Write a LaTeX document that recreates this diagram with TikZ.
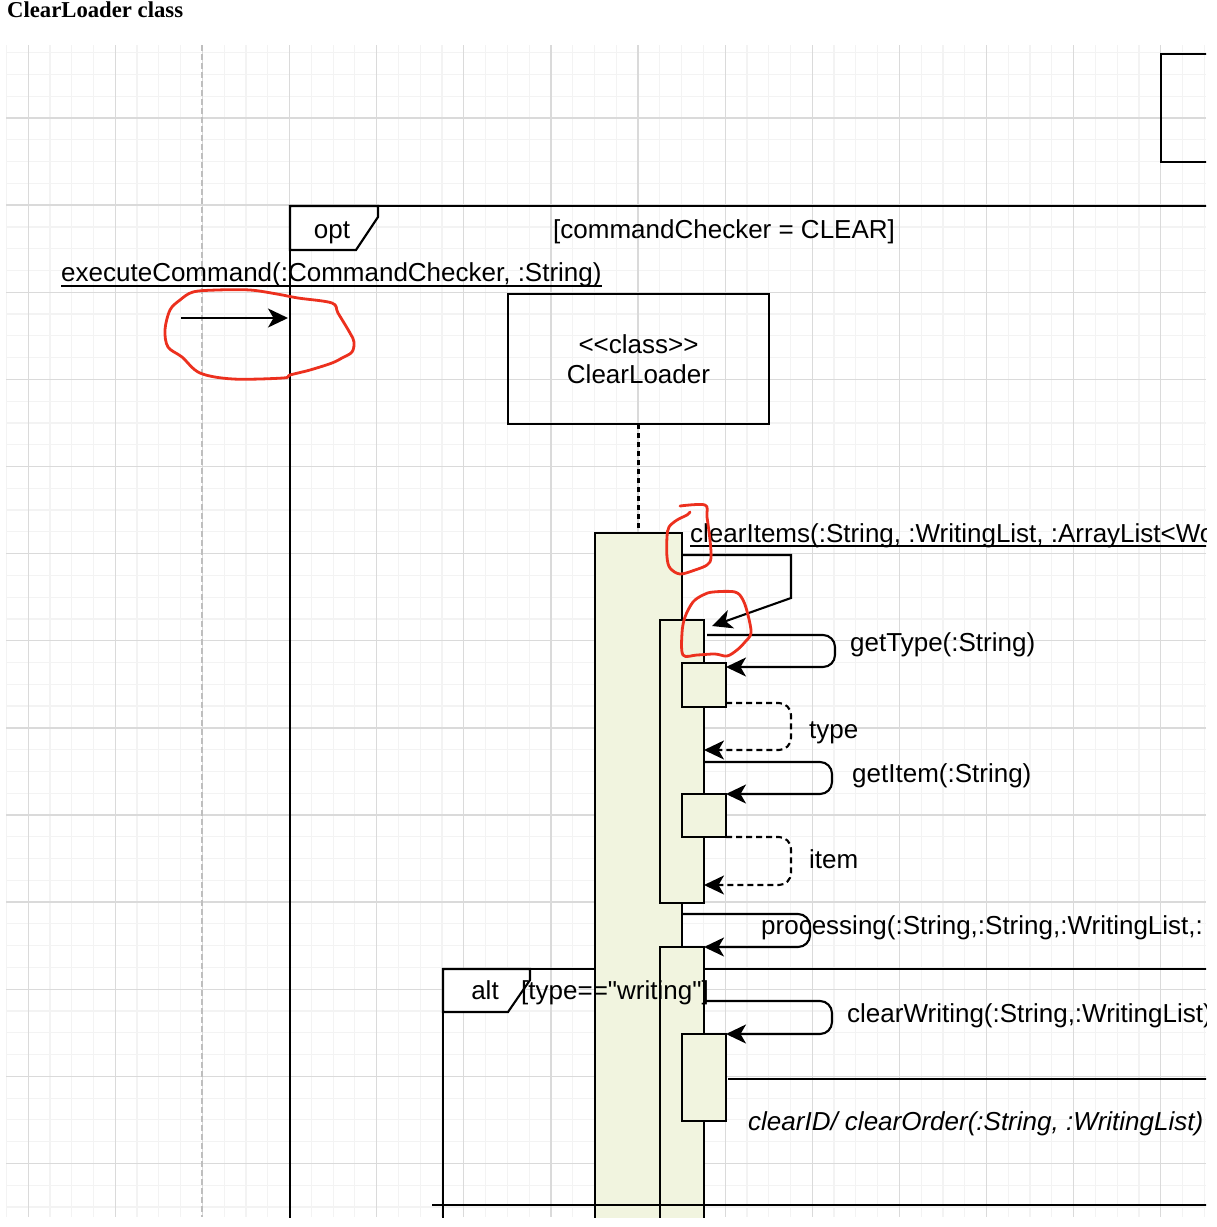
\documentclass[tikz,border=0pt]{standalone}
\usepackage{fontspec}
\newfontfamily\dio{Liberation Sans}
\newfontfamily\ttl{Liberation Serif}
\usetikzlibrary{arrows.meta}
\definecolor{actfill}{RGB}{241,244,223}
\definecolor{gridminor}{RGB}{243,243,243}
\definecolor{gridmajor}{RGB}{218,218,218}
\definecolor{lifegray}{RGB}{190,190,190}
\definecolor{annot}{RGB}{236,48,30}
\begin{document}
\begin{tikzpicture}[x=1pt,y=-1pt,
  ln/.style={line width=2.1pt, black},
  box/.style={draw, line width=2.1pt, inner sep=0pt, outer sep=0pt, anchor=north west},
  actbox/.style={box, fill=actfill},
  msg/.style={line width=2.1pt, -{Stealth[length=20pt,width=19pt,inset=5.5pt]}},
  loopmsg/.style={msg, rounded corners=12pt},
  ret/.style={loopmsg, dash pattern=on 6pt off 4pt},
  lbl/.style={font=\dio\fontsize{26pt}{30pt}\selectfont, inner sep=0pt, anchor=base west},
  uline/.style={line width=1.8pt},
  note/.style={annot, line width=2.8pt, line join=round, line cap=round},
  gmin/.style={gridminor, line width=1.2pt},
  gmaj/.style={gridmajor, line width=1.3pt},
]
\useasboundingbox (0,0) rectangle (1217,1227);
\node[font=\ttl\bfseries\fontsize{22.7pt}{26pt}\selectfont, inner sep=0pt, anchor=base west] (title) at (7,17) {ClearLoader class};
\begin{scope}
\clip (6,45) rectangle (1206,1217);
% grid
\foreach \i in {0,...,55} \draw[gmin] ({6.4+21.78*\i},45) -- ++(0,1172);
\foreach \i in {-3,...,50} \draw[gmin] (6,{118+21.78*\i}) -- ++(1200,0);
\foreach \i in {0,...,13} \draw[gmaj] ({28.2+87.12*\i},45) -- ++(0,1172);
\foreach \i in {-1,...,12} \draw[gmaj] (6,{118+87.12*\i}) -- ++(1200,0);
% left lifeline
\coordinate (llt) at (202,45);
\coordinate (llb) at (202,1217);
\draw[lifegray, line width=1.8pt, dash pattern=on 6pt off 3pt] (llt) -- (llb);
% opt frame
\draw[ln] (1220,206) -- (290,206) -- (290,1230);
\draw[ln, fill=white] (290,206) -- (378,206) -- (378,217) -- (356,250) -- (290,250) -- cycle;
\node[lbl, anchor=base] (optl) at (332,238) {opt};
\node[lbl] (optc) at (553,238) {[commandChecker = CLEAR]};
% executeCommand
\node[lbl] (ex) at (61,281) {executeCommand(:CommandChecker, :String)};
\draw[uline] ([yshift=-5pt]ex.base west) -- ([yshift=-5pt]ex.base east);
\coordinate (exs) at (181,318);
\coordinate (exe) at (288,318);
\draw[msg] (exs) -- (exe);
% right object box
\node[box, minimum width=100pt, minimum height=108pt] (objR) at (1161,54) {};
% class box
\node[box, minimum width=261pt, minimum height=130pt, align=center, font=\dio\fontsize{26pt}{30pt}\selectfont] (cls) at (508,294) {<<class>>\\ClearLoader};
% alt frame (behind bars)
\draw[ln] (1220,969) -- (443,969) -- (443,1230);
\draw[ln, fill=white] (443,969) -- (530,969) -- (530,980) -- (508,1012) -- (443,1012) -- cycle;
% activation bars
\node[actbox, minimum width=87pt, minimum height=720pt] (act1) at (595,533) {};
\draw[line width=2.1pt, dash pattern=on 5pt off 4pt] (cls.south) -- (act1.north);
\node[actbox, minimum width=44pt, minimum height=283pt] (act2) at (660,620) {};
\node[actbox, minimum width=44pt, minimum height=44pt] (sa1) at (682,663) {};
\node[actbox, minimum width=44pt, minimum height=43pt] (sa2) at (682,794) {};
\node[actbox, minimum width=44pt, minimum height=300pt] (act3) at (660,947) {};
\node[actbox, minimum width=44pt, minimum height=87pt] (sa3) at (682,1034) {};
% messages
\draw[msg] ([yshift=-22pt]act1.north east) -- ++(109,0) -- ++(0,43) -- ([xshift=8pt,yshift=-6pt]act2.north east);
\draw[loopmsg] ([xshift=3pt,yshift=-15pt]act2.north east) -- ++(128,0) -- ++(0,32) -- ([yshift=-4pt]sa1.north east);
\draw[ret] ([yshift=4pt]sa1.south east) -- ++(65,0) -- ++(0,47) -- ([yshift=-130pt]act2.north east);
\draw[loopmsg] ([yshift=-142pt]act2.north east) -- ++(128,0) -- ++(0,32) -- (sa2.north east);
\draw[ret] (sa2.south east) -- ++(65,0) -- ++(0,48) -- ([yshift=-265pt]act2.north east);
\draw[loopmsg] ([yshift=-381pt]act1.north east) -- ++(128,0) -- ++(0,33) -- (act3.north east);
\draw[loopmsg] ([yshift=-54pt]act3.north east) -- ++(128,0) -- ++(0,33) -- (sa3.north east);
\coordinate (outR) at (1220,1079);
\draw[ln] ([xshift=2pt,yshift=-45pt]sa3.north east) -- (outR);
\coordinate (sepL) at (432,1205);
\coordinate (sepR) at (1220,1205);
\draw[ln] (sepL) -- (sepR);
% labels
\node[lbl] (ci) at (690,542) {clearItems(:String, :WritingList, :ArrayList<Wo};
\draw[uline] ([yshift=-4pt]ci.base west) -- ([yshift=-4pt]ci.base east);
\node[lbl] (gt) at (850,651) {getType(:String)};
\node[lbl] (ty) at (809,738) {type};
\node[lbl] (gi) at (852,782) {getItem(:String)};
\node[lbl] (it) at (809,868) {item};
\node[lbl] (pr) at (761,934) {processing(:String,:String,:WritingList,:};
\node[lbl, anchor=base] (altl) at (485,999) {alt};
\node[lbl] (altc) at (521,999) {[type=="writing"]};
\node[lbl] (cw) at (847,1022) {clearWriting(:String,:WritingList)};
\node[lbl, font=\dio\itshape\fontsize{26pt}{30pt}\selectfont] (cid) at (748,1130) {clearID/ clearOrder(:String, :WritingList)};
% red annotations
\draw[note] plot[smooth cycle, tension=0.55] coordinates {(277,294) (298,298) (332,303) (338,313) (350,333) (354,342) (352,352) (342,358) (332,363) (310,370) (290,375) (283,378) (233,379) (200,373) (182,357) (168,347) (165,330) (170,310) (180,300) (193,292) (217,290) (250,290)};
\draw[note] plot[smooth, tension=0.55] coordinates {(680,506) (705,505) (707,517) (710,540) (711,558) (707,565) (695,570) (680,574) (670,568) (667,557) (667,537) (669,527) (677,520) (687,515) (690,512)};
\draw[note] plot[smooth cycle, tension=0.55] coordinates {(693,602) (703,595) (713,592) (735,592) (743,600) (748,615) (751,633) (745,642) (737,650) (727,656) (715,654) (697,655) (683,655) (682,633) (685,617)};
\end{scope}
\end{tikzpicture}
\end{document}
